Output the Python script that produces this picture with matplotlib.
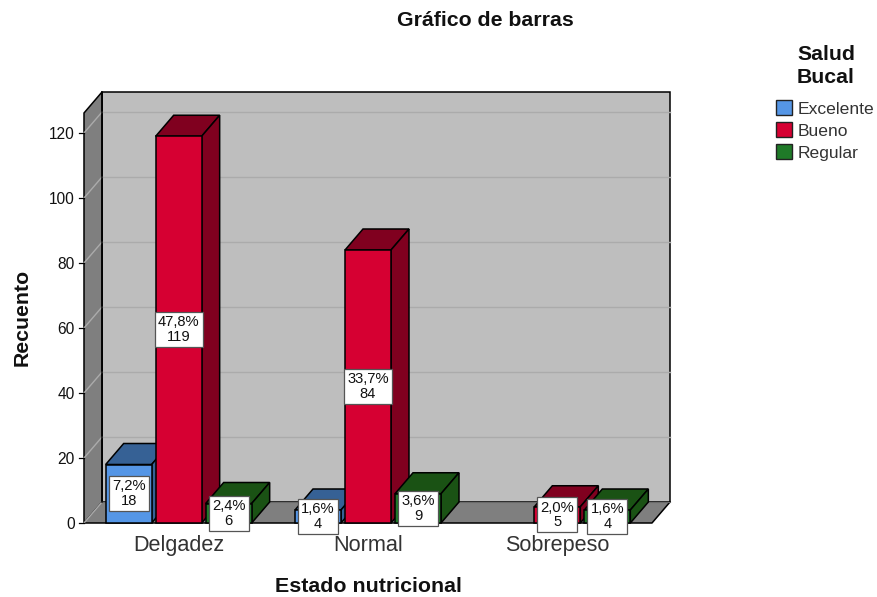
import matplotlib
matplotlib.use('Agg')
import matplotlib.pyplot as plt
from matplotlib.patches import Polygon

plt.rcParams['font.family'] = ['Liberation Sans', 'DejaVu Sans']

categories = ['Delgadez', 'Normal', 'Sobrepeso']
series_names = ['Excelente', 'Bueno', 'Regular']
excelente = [18, 4, 0]
bueno = [119, 84, 5]
regular = [6, 9, 4]
pct_excelente = ['7,2%', '1,6%', '']
pct_bueno = ['47,8%', '33,7%', '2,0%']
pct_regular = ['2,4%', '3,6%', '1,6%']
yticks = [0, 20, 40, 60, 80, 100, 120]

W, H = 877, 597
fig = plt.figure(figsize=(W/100, H/100), dpi=100, facecolor='white')
L, R, B, T = 84, 652, 523, 113
ax = fig.add_axes([L/W, 1-B/H, (R-L)/W, (B-T)/H])
ppx = (R-L)/3           # pixels per category
ppy = 3.25              # pixels per count
ax.set_xlim(0, 3)
ax.set_ylim(0, (B-T)/ppy)
dx, dy = 18/ppx, 21/ppy
ymax = ax.get_ylim()[1]
ax.axis('off')

def poly(pts, fc, ec='black', lw=1.1, z=1):
    ax.add_patch(Polygon(pts, closed=True, fc=fc, ec=ec, lw=lw, zorder=z,
                         clip_on=False, joinstyle='miter'))

WALL, SIDE = '#BEBEBE', '#7F7F7F'
poly([(dx, dy), (3+dx, dy), (3+dx, ymax+dy), (dx, ymax+dy)], WALL)
poly([(0, 0), (dx, dy), (dx, ymax+dy), (0, ymax)], SIDE)
poly([(0, 0), (3, 0), (3+dx, dy), (dx, dy)], SIDE, ec='none')
ax.plot([0, 3, 3+dx], [0, 0, dy], color='black', lw=1.1, zorder=2, clip_on=False)
ax.plot([dx, 3+dx], [dy, dy], color='#6a6a6a', lw=0.8, zorder=2, clip_on=False)
for t in yticks[1:]:
    ax.plot([dx, 3+dx], [t+dy, t+dy], color='#ABABAB', lw=1.0, zorder=2, clip_on=False)
    ax.plot([0, dx], [t, t+dy], color='#ABABAB', lw=1.0, zorder=2, clip_on=False)
ax.plot([0, dx], [0, dy], color='#ABABAB', lw=1.0, zorder=2, clip_on=False)
ax.plot([dx, dx], [dy, ymax+dy], color='black', lw=1.1, zorder=2, clip_on=False)
for t in yticks:
    ax.plot([-5/ppx, 0], [t, t], color='black', lw=0.9, clip_on=False, zorder=2)
    ax.text(-9/ppx, t-1.5/ppy, str(t), ha='right', va='center', fontsize=11.2, color='#111111')

bw = 46/ppx
step = 50/ppx
fronts = ['#5596E6', '#D60032', '#1F7A28']
darks = ['#366195', '#80001F', '#1A5214']
series = [excelente, bueno, regular]
pcts = [pct_excelente, pct_bueno, pct_regular]
z = 3
for c in range(len(categories)):
    for s in range(3):
        v = series[s][c]
        if v == 0:
            continue
        x0 = c + 0.5 + (s-1)*step - bw/2
        x1 = x0 + bw
        poly([(x0, v), (x1, v), (x1+dx, v+dy), (x0+dx, v+dy)], darks[s], z=z)
        poly([(x1, 0), (x1+dx, dy), (x1+dx, v+dy), (x1, v)], darks[s], z=z)
        poly([(x0, 0), (x1, 0), (x1, v), (x0, v)], fronts[s], z=z)
        z += 1
for c in range(len(categories)):
    for s in range(3):
        v = series[s][c]
        if v == 0:
            continue
        xc = c + 0.5 + (s-1)*step
        ax.text(xc, v/2, f'{pcts[s][c]}\n{v}', ha='center', va='center', fontsize=10.6,
                color='#111111', linespacing=1.05, zorder=50, clip_on=False,
                bbox=dict(boxstyle='square,pad=0.22', fc='white', ec='#555555', lw=0.9))

for i, name in enumerate(categories):
    ax.text(i+0.5, -28/ppy, name, ha='center', va='baseline', fontsize=15.6, color='#333333')

fig.text(485/W, 1-20.5/H, 'Gráfico de barras', ha='center', va='center', fontsize=15.3, fontweight='bold', color='#111111')
fig.text(368/W, 1-587/H, 'Estado nutricional', ha='center', va='center', fontsize=15.4, fontweight='bold', color='#111111')
fig.text(22/W, 1-317/H, 'Recuento', ha='center', va='center', rotation=90, fontsize=15.3, fontweight='bold', color='#111111')
fig.text(826/W, 1-66/H, 'Salud\nBucal', ha='center', va='center', fontsize=15.3, fontweight='bold',
         linespacing=1.22, color='#111111')

for i, name in enumerate(series_names):
    yc = 107.5 + i*21.8
    fig.patches.append(plt.Rectangle((776/W, 1-(yc+7.5)/H), 16/W, 15/H, transform=fig.transFigure,
                                     fc=fronts[i], ec='#222222', lw=1.0))
    fig.text(798/W, 1-(yc+2)/H, name, ha='left', va='center', fontsize=12.6, color='#333333')

fig.savefig('out.png', dpi=100)
